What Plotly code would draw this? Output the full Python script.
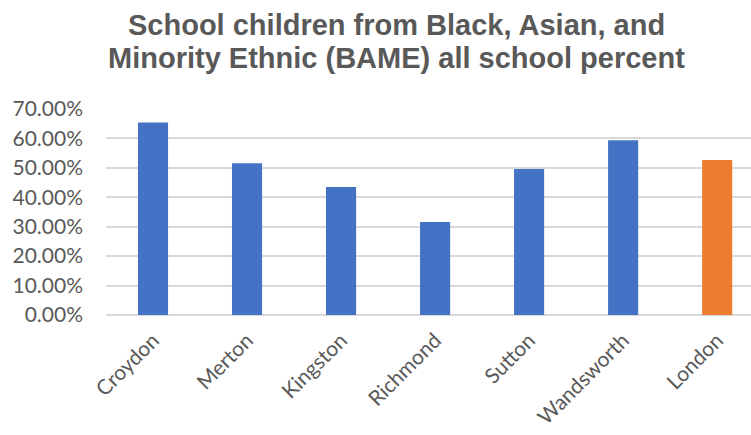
import plotly.graph_objects as go

categories = ["Croydon", "Merton", "Kingston", "Richmond", "Sutton", "Wandsworth", "London"]
values = [0.654, 0.516, 0.435, 0.316, 0.496, 0.594, 0.527]
bar_colors = ["#4472C4"] * 6 + ["#ED7D31"]
y_ticks = [0, 0.1, 0.2, 0.3, 0.4, 0.5, 0.6, 0.7]
title_lines = ["School children from Black, Asian, and", "Minority Ethnic (BAME) all school percent"]

W, H = 751, 435
ML, MR, MT, MB = 106, 0, 109, 120
plot_h = H - MT - MB

fig = go.Figure(
    go.Bar(
        x=categories,
        y=values,
        marker=dict(color=bar_colors, line=dict(width=0)),
    )
)

title_centers_px = [25, 58]
for line, py in zip(title_lines, title_centers_px):
    fig.add_annotation(
        text=line,
        xref="paper",
        yref="paper",
        x=(396 - ML) / (W - ML - MR),
        y=(H - MB - py) / plot_h,
        xanchor="center",
        yanchor="middle",
        showarrow=False,
        font=dict(family="Liberation Sans", size=29, color="#595959", weight="bold"),
    )

fig.update_layout(
    width=W,
    height=H,
    margin=dict(l=ML, r=MR, t=MT, b=MB, autoexpand=False),
    paper_bgcolor="white",
    plot_bgcolor="white",
    bargap=0.68,
    showlegend=False,
)

fig.update_xaxes(
    range=[-0.5, 6.36],
    tickangle=-45,
    tickfont=dict(family="Lato", size=21, color="#595959"),
    showgrid=False,
    showline=False,
    ticks="",
    ticklabelstandoff=8,
    automargin=False,
)

fig.update_yaxes(
    range=[0, 0.7],
    tickvals=y_ticks,
    tickformat=".2%",
    tickfont=dict(family="Lato", size=21, color="#595959"),
    showgrid=True,
    gridcolor="#D9D9D9",
    gridwidth=1.5,
    zeroline=True,
    zerolinecolor="#D9D9D9",
    zerolinewidth=1.5,
    showline=False,
    ticks="",
    ticklabelstandoff=22,
    automargin=False,
)

fig.write_html("out.html")
